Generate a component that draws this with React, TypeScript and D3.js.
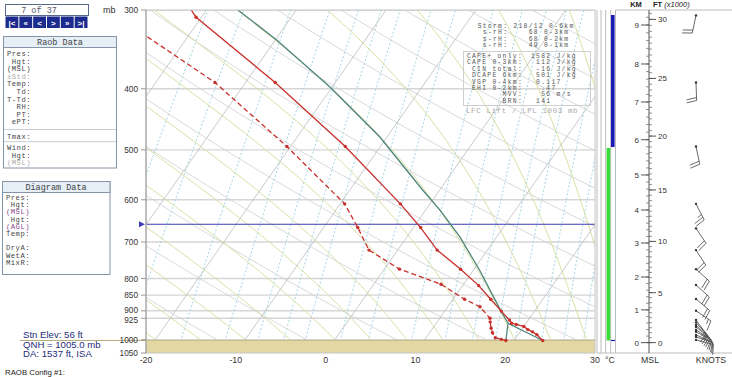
import React, { useMemo } from "react";
import * as d3 from "d3";

// ---------- data ----------
const pressureLevels = [300, 400, 500, 600, 700, 800, 850, 900, 925, 1000, 1050];
const tempTicks = [-20, -10, 0, 10, 20, 30];

const isothermValues = [-110, -100, -90, -80, -70, -60, -50, -40, -30, -20, -10, 0, 10, 20, 30, 40];
const dryThetaK = [250, 260, 270, 280, 290, 300, 310, 320, 330, 340, 350, 360, 370, 380, 390, 400, 410, 420, 430, 440];
const moistThetaW = [-20, -15, -10, -5, 0, 4, 8, 12, 16, 20, 24, 28, 32, 36];
const mixRatios = [0.4, 0.6, 1, 1.5, 2, 2.5, 3, 4, 5, 7, 9, 11, 13, 15, 18, 21, 24];

const tempP = [300, 308, 391, 494, 609, 664, 721, 773, 821, 863, 901, 931, 942, 946, 953, 964, 972, 982, 1003];
const tempT = [-41.7, -40.6, -26.7, -13.9, -3.3, 0.8, 4.4, 8.5, 11.8, 14.2, 16.3, 17.9, 18.4, 19.0, 20.0, 20.7, 21.4, 22.1, 23.2];

const dewP = [300, 391, 494, 609, 664, 721, 773, 817, 863, 887, 925, 937, 959, 975, 993, 999, 1003];
const dewT = [-51, -33.4, -20.4, -9.5, -6.2, -3.2, 1.7, 7.5, 11.3, 13.6, 15.6, 15.9, 16.5, 17.0, 17.7, 18.5, 19.1];

const parcelLowP = [1003, 942];
const parcelDryT = [23.2, 18.0];
const parcelMixT = [19.1, 18.0];
const parcelMoistP = [942, 897, 776, 687, 623, 579, 477, 397, 335, 300];
const parcelMoistT = [18.0, 16.1, 10.7, 5.9, 1.6, -1.9, -10.8, -20.3, -29.8, -36.5];

const freezeP = 656;
const surfaceP = 1003;

const windP = [306, 391, 494, 609, 666, 721, 773, 819, 862, 900, 931, 939, 948, 955, 965, 972, 983, 990, 1001];
const windDir = [192, 178, 168, 153, 146, 147, 132, 132, 130, 124, 143, 138, 133, 128, 123, 118, 113, 109, 105];
const windSpd = [20, 20, 20, 25, 20, 20, 20, 20, 20, 15, 15, 15, 15, 10, 10, 10, 10, 10, 10];

const kmValues = [0, 1, 2, 3, 4, 5, 6, 7, 8, 9];
const kmPress = [1011, 897, 795.5, 702.6, 622.8, 548, 481.8, 419.8, 365.4, 316.9];
const kftLabels = [0, 5, 10, 15, 20, 25, 30];

const raobLabels = ["Pres:", "Hgt:", "(MSL)", "\u00B1Std:", "Temp:", "Td:", "T-Td:", "RH:", "PT:", "ePT:"];
const diagLabels = ["Pres:", "Hgt:", "(MSL)", "Hgt:", "(AGL)", "Temp:", "", "DryA:", "WetA:", "MixR:"];
const stormLines = ["Storm: 218/12 0-6km", " s-rH:    68 0-3km", " s-rH:    68 0-2km", " s-rH:    49 0-1km"];
const capeLabels = ["CAPE+ only:", "CAPE 0-3km:", "CIN total:", "DCAPE 6km:", "VGP 0-4km:", "EHI 0-2km:", "MVV:", "BRN:"];
const capeValues = ["1582 J/kg", " 112 J/kg", " -16 J/kg", " 501 J/kg", " 0.117", "  .47", "  56 m/s", " 141"];
const navGlyphs = ["|<", "\u00AB", "<", ">", "\u00BB", ">|"];
const stnLines = ["Stn Elev: 56 ft", "QNH = 1005.0 mb", "DA: 1537 ft, ISA"];

// ---------- geometry ----------
const W = 732, H = 377;
const PL = 146, PR = 595, PT = 10, PB = 353;
const SKEW = 0.7;
const xT = d3.scaleLinear().domain([-20, 30]).range([PL, PR]);
const yP = d3.scaleLog().domain([300, 1050]).range([PT, PB]);
const X = (T: number, p: number) => xT(T) + SKEW * (PB - yP(p));

const mono = "'Liberation Mono', 'Courier New', monospace";
const sans = "'Liberation Sans', Arial, sans-serif";

function es(Tc: number) {
  return 6.112 * Math.exp((17.67 * Tc) / (Tc + 243.5));
}
function moistDTdp(Tk: number, p: number) {
  const Rd = 287.04, Cp = 1005.7, Lv = 2.501e6, eps = 0.622;
  const e = es(Tk - 273.15);
  const rs = (eps * e) / (p - e);
  return (Rd * Tk + Lv * rs) / (p * (Cp + (Lv * Lv * rs * eps) / (Rd * Tk * Tk)));
}
function moistPath(thw: number): [number, number][] {
  const pts: [number, number][] = [];
  let T = thw + 273.15;
  let p = 1000;
  const down: [number, number][] = [];
  let Td = T, pd = 1000;
  while (pd < 1050) {
    const dp = 5;
    const k1 = moistDTdp(Td, pd);
    const k2 = moistDTdp(Td + k1 * dp, pd + dp);
    Td += 0.5 * (k1 + k2) * dp;
    pd += dp;
    down.push([pd, Td - 273.15]);
  }
  down.reverse().forEach((d) => pts.push(d));
  pts.push([1000, T - 273.15]);
  while (p > 300) {
    const dp = -5;
    const k1 = moistDTdp(T, p);
    const k2 = moistDTdp(T + k1 * dp, p + dp);
    T += 0.5 * (k1 + k2) * dp;
    p += dp;
    pts.push([p, T - 273.15]);
  }
  return pts;
}
function tdFromW(w: number, p: number) {
  const e = (w * p) / (622 + w);
  const l = Math.log(e / 6.112);
  return (243.5 * l) / (17.67 - l);
}

const lineTP = d3
  .line<[number, number]>()
  .x((d) => X(d[1], d[0]))
  .y((d) => yP(d[0]));

const pSamples = d3.range(1050, 299, -10);

function barbPath(x0: number, y0: number, dir: number, spd: number) {
  const L = 18;
  const r = (dir * Math.PI) / 180;
  const ux = Math.sin(r), uy = -Math.cos(r);
  const px = -uy, py = ux;
  const ex = x0 + ux * L, ey = y0 + uy * L;
  let d = `M${x0},${y0}L${ex},${ey}`;
  let rem = spd;
  let pos = L;
  while (rem >= 10) {
    const bx = x0 + ux * pos, by = y0 + uy * pos;
    d += `M${bx},${by}L${bx + px * 10 + ux * 2},${by + py * 10 + uy * 2}`;
    rem -= 10;
    pos -= 3;
  }
  if (rem >= 5) {
    const bx = x0 + ux * pos, by = y0 + uy * pos;
    d += `M${bx},${by}L${bx + px * 5 + ux * 1},${by + py * 5 + uy * 1}`;
  }
  return d;
}

const statFont = 6.3;
const statLS = 5.1 - statFont * 0.6;
const diagFont = 7.2;
const diagLS = 4.8 - diagFont * 0.6;
// small label nudges to keep the tightly spaced 900/925 labels apart
const labelNudge: Record<number, number> = { 900: -1.2, 925: 1.4 };

export default function App() {
  const grids = useMemo(() => {
    const iso = isothermValues.map((t) => lineTP([[1050, t], [300, t]]) as string);
    const dry = dryThetaK.map(
      (th) => lineTP(pSamples.map((p) => [p, th * Math.pow(p / 1000, 0.2857) - 273.15] as [number, number])) as string
    );
    const moist = moistThetaW.map((t) => lineTP(moistPath(t)) as string);
    const mix = mixRatios.map(
      (w) => lineTP(d3.range(1050, 299, -25).map((p) => [p, tdFromW(w, p)] as [number, number])) as string
    );
    return { iso, dry, moist, mix };
  }, []);

  const tempPts = tempP.map((p, i) => [p, tempT[i]] as [number, number]);
  const dewPts = dewP.map((p, i) => [p, dewT[i]] as [number, number]);
  const parcelDry = parcelLowP.map((p, i) => [p, parcelDryT[i]] as [number, number]);
  const parcelMix = parcelLowP.map((p, i) => [p, parcelMixT[i]] as [number, number]);
  const parcelMoist = parcelMoistP.map((p, i) => [p, parcelMoistT[i]] as [number, number]);

  const kmScale = d3.scaleLinear().domain(kmValues).range(kmPress.map((p) => yP(p)));
  const kmMinor = d3.range(0, 9.31, 0.2);
  const ftMinor = d3.range(0, 30.6, 0.5);
  const KX = 649;
  const windX = 696;

  const redC = "#c8302c";
  const parcelC = "#4d857b";

  return (
    <svg width={W} height={H} style={{ position: "absolute", left: 0, top: 0, background: "#fff" }}>
      <defs>
        <clipPath id="plot">
          <rect x={PL} y={PT} width={PR - PL} height={PB - PT} />
        </clipPath>
      </defs>
      <rect x={0} y={0} width={W} height={H} fill="#fff" />

      {/* plot background lines */}
      <g clipPath="url(#plot)">
        {pressureLevels.map((p) => (
          <line key={p} x1={PL} x2={PR} y1={yP(p)} y2={yP(p)} stroke="#d6d6d6" strokeWidth={1.4} />
        ))}
        {grids.mix.map((d, i) => (
          <path key={"m" + i} d={d} fill="none" stroke="#8ecbe0" strokeWidth={0.8} strokeDasharray="2,2" />
        ))}
        {grids.dry.map((d, i) => (
          <path key={"d" + i} d={d} fill="none" stroke="#cfcfcf" strokeWidth={0.8} />
        ))}
        {grids.moist.map((d, i) => (
          <path key={"w" + i} d={d} fill="none" stroke="#d9e0a2" strokeWidth={1} />
        ))}
        {grids.iso.map((d, i) => (
          <path key={"i" + i} d={d} fill="none" stroke="#bdbdbd" strokeWidth={0.8} />
        ))}
        <rect x={PL} y={yP(surfaceP)} width={PR - PL} height={PB - yP(surfaceP)} fill="#e3d7a3" />
        <line x1={PL} x2={PR} y1={yP(surfaceP)} y2={yP(surfaceP)} stroke="#c9bb86" strokeWidth={1} />
        <line x1={PL} x2={PR} y1={yP(freezeP)} y2={yP(freezeP)} stroke="#3b3bb5" strokeWidth={1.1} />

        {/* parcel */}
        <path d={lineTP(parcelMoist) as string} fill="none" stroke={parcelC} strokeWidth={1.3} />
        <path d={lineTP(parcelDry) as string} fill="none" stroke={parcelC} strokeWidth={1.3} />
        <path d={lineTP(parcelMix) as string} fill="none" stroke={parcelC} strokeWidth={1.3} />

        {/* temperature / dewpoint */}
        <path d={lineTP(dewPts) as string} fill="none" stroke={redC} strokeWidth={1.3} strokeDasharray="5,3" />
        <path d={lineTP(tempPts) as string} fill="none" stroke={redC} strokeWidth={1.3} />
        {tempPts.slice(1).map((d, i) => (
          <circle key={"tc" + i} cx={X(d[1], d[0])} cy={yP(d[0])} r={1.7} fill={redC} />
        ))}
        {dewPts.slice(1).map((d, i) => (
          <circle key={"dc" + i} cx={X(d[1], d[0])} cy={yP(d[0])} r={1.7} fill={redC} />
        ))}
      </g>
      <rect x={PL} y={PT} width={PR - PL} height={PB - PT} fill="none" stroke="#c4c4c4" strokeWidth={1} />
      <line x1={PL} x2={PL} y1={PT} y2={PB} stroke="#9a9a9a" strokeWidth={1} />
      <path d={`M139,${yP(freezeP) - 3}L145,${yP(freezeP)}L139,${yP(freezeP) + 3}Z`} fill="#3b3bb5" />
      <line x1={20} x2={PL} y1={yP(surfaceP)} y2={yP(surfaceP)} stroke="#b3ab7c" strokeWidth={1} />

      {/* pressure axis */}
      {pressureLevels.map((p) => (
        <g key={"pl" + p}>
          <line x1={141} x2={PL} y1={yP(p)} y2={yP(p)} stroke="#999" strokeWidth={1} />
          <text x={138} y={yP(p) + 3 + (labelNudge[p] || 0)} textAnchor="end" fontFamily={sans} fontSize={8.3} fill="#333">
            {p}
          </text>
        </g>
      ))}
      <text x={103} y={13} fontFamily={sans} fontSize={9} fill="#333">mb</text>
      {tempTicks.map((t) => (
        <text key={"tt" + t} x={xT(t)} y={363} textAnchor="middle" fontFamily={sans} fontSize={8.8} fill="#333">
          {t}
        </text>
      ))}
      <text x={610} y={363} textAnchor="middle" fontFamily={sans} fontSize={8.8} fill="#333">°C</text>

      {/* right strip */}
      {[597, 601, 605.7, 610.7, 615.5].map((x) => (
        <line key={"s" + x} x1={x} x2={x} y1={PT} y2={PB} stroke="#bdbdbd" strokeWidth={1} />
      ))}
      <rect x={611} y={15} width={3.6} height={132} fill="#1919b8" />
      <rect x={606.6} y={148} width={3.6} height={yP(surfaceP) - 148} fill="#37dc37" />
      <line x1={611} x2={615} y1={yP(surfaceP)} y2={yP(surfaceP)} stroke="#1919b8" strokeWidth={1.2} />

      {/* height panel */}
      <line x1={615.5} x2={W} y1={PT} y2={PT} stroke="#bdbdbd" />
      <line x1={597} x2={W} y1={PB} y2={PB} stroke="#bdbdbd" />
      <line x1={KX} x2={KX} y1={PT} y2={PB} stroke="#555" strokeWidth={1} />
      {kmMinor.map((k, i) => (
        <line key={"kmm" + i} x1={KX - 3} x2={KX} y1={kmScale(k)} y2={kmScale(k)} stroke="#666" strokeWidth={0.7} />
      ))}
      {ftMinor.map((f, i) => (
        <line key={"ftm" + i} x1={KX} x2={KX + 3} y1={kmScale(f * 0.3048)} y2={kmScale(f * 0.3048)} stroke="#666" strokeWidth={0.7} />
      ))}
      {kmValues.map((k) => (
        <g key={"km" + k}>
          <line x1={KX - 8} x2={KX} y1={kmScale(k)} y2={kmScale(k)} stroke="#444" strokeWidth={0.9} />
          <text x={639} y={kmScale(k) + 3} textAnchor="end" fontFamily={sans} fontSize={8} fill="#333">{k}</text>
        </g>
      ))}
      {kftLabels.map((f) => (
        <g key={"ft" + f}>
          <line x1={KX} x2={KX + 7} y1={kmScale(f * 0.3048)} y2={kmScale(f * 0.3048)} stroke="#444" strokeWidth={0.9} />
          <text x={658} y={kmScale(f * 0.3048) + 3} fontFamily={sans} fontSize={8} fill="#333">{f}</text>
        </g>
      ))}
      <text x={636} y={7} textAnchor="middle" fontFamily={sans} fontSize={7.5} fontWeight="bold" fill="#222">KM</text>
      <text x={653} y={7} fontFamily={sans} fontSize={7.5} fill="#222">
        <tspan fontWeight="bold">FT </tspan>
        <tspan fontStyle="italic">(x1000)</tspan>
      </text>
      <text x={650} y={363} textAnchor="middle" fontFamily={sans} fontSize={8.8} fill="#333">MSL</text>
      <text x={711} y={363} textAnchor="middle" fontFamily={sans} fontSize={8.8} fill="#333">KNOTS</text>

      {/* wind barbs */}
      {windP.map((p, i) => (
        <g key={"wb" + i}>
          <path d={barbPath(windX, yP(p), windDir[i], windSpd[i])} fill="none" stroke="#444" strokeWidth={0.8} />
          <circle cx={windX} cy={yP(p)} r={1.2} fill="#333" />
        </g>
      ))}

      {/* stats */}
      {stormLines.map((s, i) => (
        <text key={"st" + i} x={477.7} y={27.5 + i * 6.5} fontFamily={mono} fontSize={statFont} letterSpacing={statLS} fill="#555" style={{ whiteSpace: "pre" }}>
          {s}
        </text>
      ))}
      <rect x={463.5} y={51.5} width={127} height={54} fill="none" stroke="#cfcfcf" strokeWidth={1} />
      {capeLabels.map((s, i) => (
        <text key={"cl" + i} x={523} y={58 + i * 6.4} textAnchor="end" fontFamily={mono} fontSize={statFont} letterSpacing={statLS} fill="#555" style={{ whiteSpace: "pre" }}>
          {s}
        </text>
      ))}
      {capeValues.map((s, i) => (
        <text key={"cv" + i} x={531} y={58 + i * 6.4} fontFamily={mono} fontSize={statFont} letterSpacing={statLS} fill="#555" style={{ whiteSpace: "pre" }}>
          {s}
        </text>
      ))}
      <text x={466} y={113} fontFamily={mono} fontSize={7.5} letterSpacing={0.6} fill="#aaa">LFC Lift / LPL 1003 mb</text>

      {/* nav */}
      <rect x={5.5} y={4.5} width={83} height={11} fill="#fff" stroke="#5a6a8a" strokeWidth={1} />
      <text x={39} y={13} textAnchor="middle" fontFamily={mono} fontSize={8.5} fill="#556" style={{ whiteSpace: "pre" }}>7 of 37</text>
      {navGlyphs.map((g, i) => (
        <g key={"nv" + i}>
          <rect x={5.5 + i * (83 / 6)} y={16.5} width={83 / 6 - 1} height={11.5} fill="#1d2a8e" />
          <text x={5.5 + i * (83 / 6) + (83 / 6 - 1) / 2} y={25.5} textAnchor="middle" fontFamily={sans} fontSize={8} fontWeight="bold" fill="#fff">
            {g}
          </text>
        </g>
      ))}

      {/* Raob Data panel */}
      <rect x={3.5} y={36.5} width={113} height={131.5} fill="#fff" stroke="#8594a6" strokeWidth={1} />
      <rect x={3.5} y={36.5} width={113} height={11} fill="#e6eef6" stroke="#8594a6" strokeWidth={1} />
      <text x={60} y={45} textAnchor="middle" fontFamily={mono} fontSize={8.5} fill="#444">Raob Data</text>
      {raobLabels.map((s, i) => (
        <text key={"rl" + i} x={31} y={56 + i * 7.6} textAnchor="end" fontFamily={mono} fontSize={diagFont} letterSpacing={diagLS} fill={i === 3 ? "#aaa" : "#444"}>
          {s}
        </text>
      ))}
      <line x1={4} x2={116} y1={129.5} y2={129.5} stroke="#c8ced6" />
      <text x={31} y={138.5} textAnchor="end" fontFamily={mono} fontSize={diagFont} letterSpacing={diagLS} fill="#444">Tmax:</text>
      <line x1={4} x2={116} y1={141.7} y2={141.7} stroke="#c8ced6" />
      <text x={31} y={150} textAnchor="end" fontFamily={mono} fontSize={diagFont} letterSpacing={diagLS} fill="#444">Wind:</text>
      <text x={31} y={157.6} textAnchor="end" fontFamily={mono} fontSize={diagFont} letterSpacing={diagLS} fill="#444">Hgt:</text>
      <text x={31} y={165.2} textAnchor="end" fontFamily={mono} fontSize={diagFont} letterSpacing={diagLS} fill="#aaa">(MSL)</text>

      {/* Diagram Data panel */}
      <rect x={2.5} y={181.5} width={107.5} height={93} fill="#fff" stroke="#8594a6" strokeWidth={1} />
      <rect x={2.5} y={181.5} width={107.5} height={11} fill="#e6eef6" stroke="#8594a6" strokeWidth={1} />
      <text x={56} y={190} textAnchor="middle" fontFamily={mono} fontSize={8.5} fill="#444">Diagram Data</text>
      {diagLabels.map((s, i) => (
        <text key={"dl" + i} x={30} y={200 + i * 7.2} textAnchor="end" fontFamily={mono} fontSize={diagFont} letterSpacing={diagLS} fill={s.startsWith("(") ? "#8a4a8a" : "#444"}>
          {s}
        </text>
      ))}

      {/* station text */}
      {stnLines.map((s, i) => (
        <text key={"sn" + i} x={23} y={338 + i * 9.5} fontFamily={sans} fontSize={9.6} fill="#1f2d7a">
          {s}
        </text>
      ))}
      <text x={5} y={374.5} fontFamily={sans} fontSize={7.8} fill="#222">RAOB Config #1:</text>
    </svg>
  );
}
